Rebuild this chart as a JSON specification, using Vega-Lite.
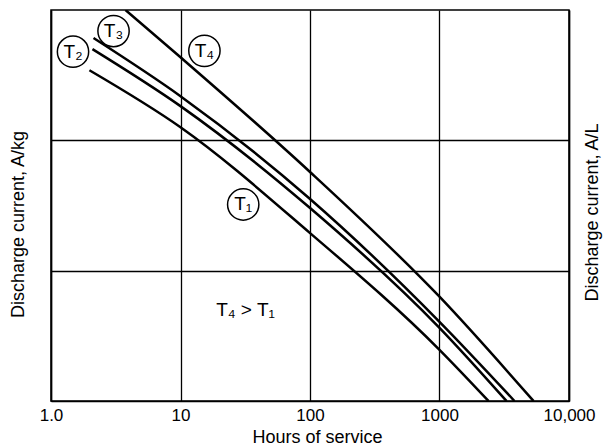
{
  "$schema": "https://vega.github.io/schema/vega-lite/v6.json",
  "width": 518,
  "height": 391,
  "autosize": "none",
  "padding": {"left": 51, "top": 10, "right": 35, "bottom": 47},
  "background": "white",
  "config": {
    "view": {"stroke": "black", "strokeWidth": 1.5},
    "font": "Liberation Sans"
  },
  "datasets": {
    "curves": [
      {"series": "T4", "hours": 3.76, "current": 1000},
      {"series": "T4", "hours": 10, "current": 434},
      {"series": "T4", "hours": 99.1, "current": 57.7},
      {"series": "T4", "hours": 1000, "current": 6.31},
      {"series": "T4", "hours": 5320, "current": 1},
      {"series": "T3", "hours": 2.13, "current": 609},
      {"series": "T3", "hours": 10, "current": 218},
      {"series": "T3", "hours": 99.1, "current": 35.8},
      {"series": "T3", "hours": 1000, "current": 4.05},
      {"series": "T3", "hours": 3793, "current": 1},
      {"series": "T2", "hours": 2.09, "current": 501},
      {"series": "T2", "hours": 10, "current": 183},
      {"series": "T2", "hours": 99.1, "current": 30.5},
      {"series": "T2", "hours": 1000, "current": 3.64},
      {"series": "T2", "hours": 3290, "current": 1},
      {"series": "T1", "hours": 1.98, "current": 345},
      {"series": "T1", "hours": 10, "current": 126},
      {"series": "T1", "hours": 99.1, "current": 19.6},
      {"series": "T1", "hours": 1000, "current": 2.47},
      {"series": "T1", "hours": 2390, "current": 1}
    ],
    "circles": [
      {"label": "T₁", "hours": 30.5, "current": 32.2},
      {"label": "T₂", "hours": 1.479, "current": 479},
      {"label": "T₃", "hours": 3.04, "current": 689},
      {"label": "T₄", "hours": 15.3, "current": 486}
    ],
    "note": [
      {"label": "T₄ > T₁", "hours": 31.8, "current": 5.01}
    ]
  },
  "resolve": {"scale": {"y": "independent"}},
  "layer": [
    {
      "data": {"name": "curves"},
      "mark": {"type": "line", "color": "black", "strokeWidth": 2.5, "interpolate": "monotone", "clip": true},
      "encoding": {
        "x": {
          "field": "hours", "type": "quantitative",
          "scale": {"type": "log", "domain": [1, 10000]},
          "axis": {
            "title": "Hours of service",
            "values": [1, 10, 100, 1000, 10000],
            "labelExpr": "datum.value == 1 ? '1.0' : (datum.value == 10000 ? '10,000' : format(datum.value, 'd'))",
            "ticks": false,
            "grid": true, "gridColor": "black", "gridOpacity": 1, "gridWidth": 1.3,
            "domainColor": "black", "domainWidth": 1.5,
            "labelFlush": false,
            "labelFontSize": 17, "labelColor": "black", "labelPadding": 6,
            "titleFontSize": 18, "titleFontWeight": "normal", "titleColor": "black",
            "titleBaseline": "alphabetic",
            "titleX": 266, "titleY": 41
          }
        },
        "y": {
          "field": "current", "type": "quantitative",
          "scale": {"type": "log", "domain": [1, 1000]},
          "axis": {
            "title": "Discharge current, A/kg",
            "values": [10, 100],
            "labels": false, "ticks": false,
            "grid": true, "gridColor": "black", "gridOpacity": 1, "gridWidth": 1.3,
            "domainColor": "black", "domainWidth": 1.5,
            "titleFontSize": 18, "titleFontWeight": "normal", "titleColor": "black", "titlePadding": 24,
            "titleY": 214
          }
        },
        "detail": {"field": "series"}
      }
    },
    {
      "data": {"name": "circles"},
      "mark": {"type": "point", "shape": "circle", "size": 980, "filled": true, "fill": "white", "stroke": "black", "strokeWidth": 1.5, "opacity": 1},
      "encoding": {
        "x": {"field": "hours", "type": "quantitative", "scale": {"type": "log", "domain": [1, 10000]}},
        "y": {
          "field": "current", "type": "quantitative",
          "scale": {"type": "log", "domain": [1, 1000]},
          "axis": {
            "orient": "right",
            "title": "Discharge current, A/L",
            "labels": false, "ticks": false, "grid": false,
            "domainColor": "black", "domainWidth": 1.5,
            "titleAngle": -90, "titleBaseline": "bottom",
            "titleFontSize": 18, "titleFontWeight": "normal", "titleColor": "black", "titlePadding": 32,
            "titleY": 202
          }
        }
      }
    },
    {
      "data": {"name": "circles"},
      "mark": {"type": "text", "fontSize": 19, "color": "black", "align": "center", "baseline": "middle"},
      "encoding": {
        "x": {"field": "hours", "type": "quantitative", "scale": {"type": "log", "domain": [1, 10000]}},
        "y": {"field": "current", "type": "quantitative", "scale": {"type": "log", "domain": [1, 1000]}, "axis": null},
        "text": {"field": "label"}
      }
    },
    {
      "data": {"name": "note"},
      "mark": {"type": "text", "fontSize": 19, "color": "black", "align": "center", "baseline": "middle"},
      "encoding": {
        "x": {"field": "hours", "type": "quantitative", "scale": {"type": "log", "domain": [1, 10000]}},
        "y": {"field": "current", "type": "quantitative", "scale": {"type": "log", "domain": [1, 1000]}, "axis": null},
        "text": {"field": "label"}
      }
    }
  ]
}
